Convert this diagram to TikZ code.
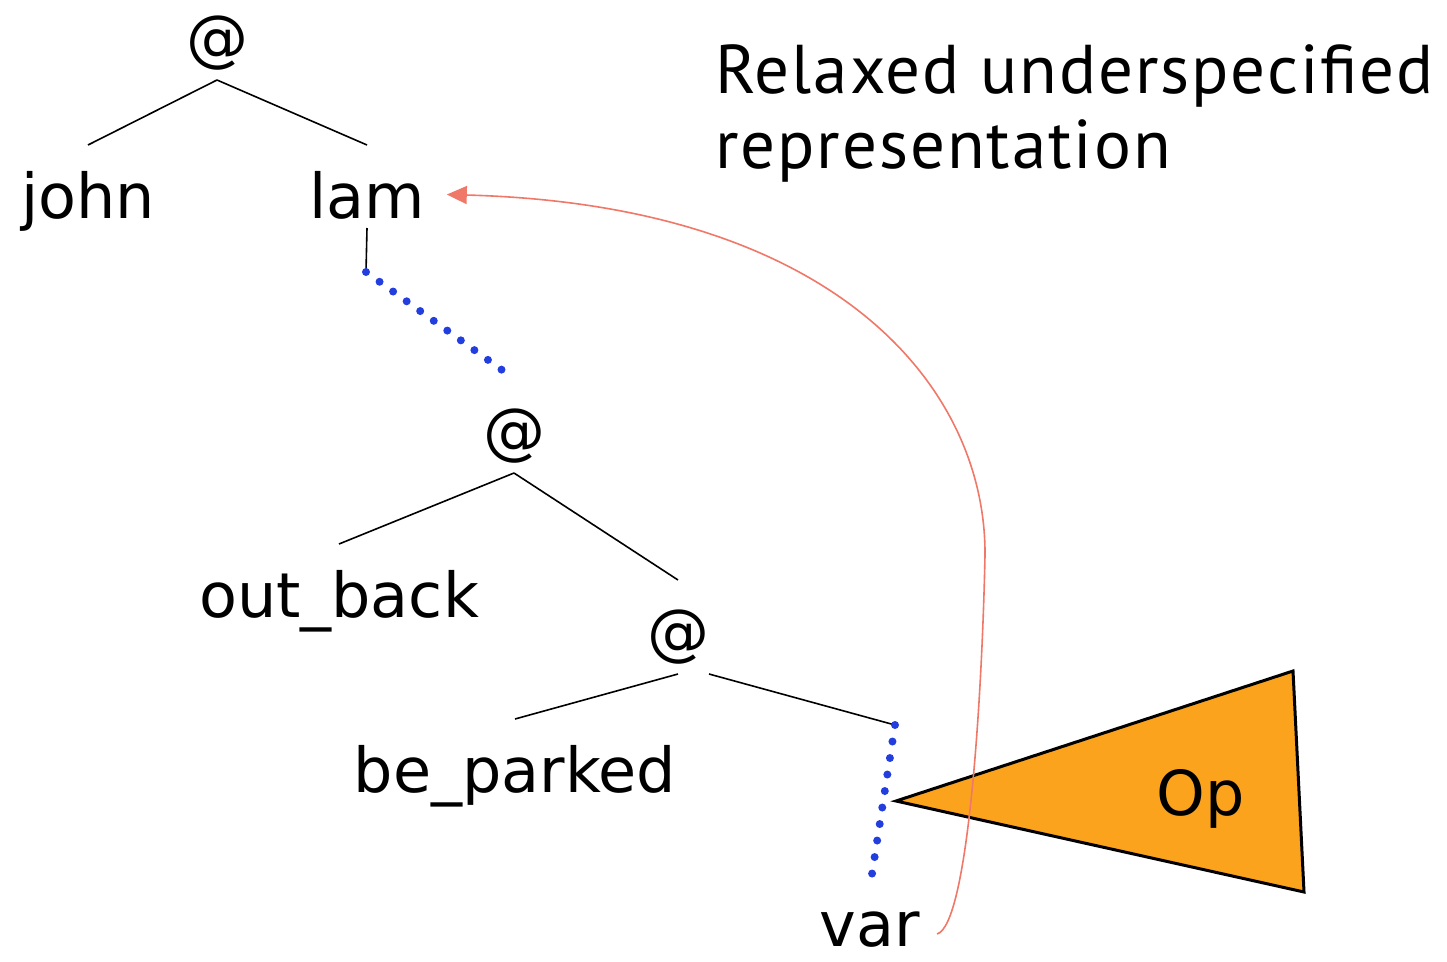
\documentclass[tikz,border=0pt]{standalone}
\usepackage{fontspec}
\setmainfont{DejaVu Sans}
\newfontfamily\titlefont[LetterSpace=2.8]{PT Sans}
\usetikzlibrary{arrows.meta}
\definecolor{opfill}{RGB}{252,163,30}
\definecolor{dotblue}{RGB}{35,62,222}
\definecolor{linkred}{RGB}{240,120,104}
\begin{document}
\begin{tikzpicture}[x=1pt,y=-1pt,
  lbl/.style={font=\fontsize{62}{62}\selectfont, inner sep=0pt, outer xsep=0pt,
    outer ysep=10pt, text height=63pt, text depth=15pt, anchor=base},
  apply/.style={lbl, text depth=11pt},
  edge/.style={draw=black, line width=1.6pt},
  hole/.style={draw=dotblue, line width=8pt, line cap=round, dash pattern=on 0pt off 16.7pt},
  titletext/.style={font=\titlefont\fontsize{69}{69}\selectfont, inner sep=0pt, anchor=base west},
  link/.style={draw=linkred, line width=1.6pt, -{Triangle[length=20pt,width=18pt]}}]
\useasboundingbox (0,0) rectangle (1447,961);

% title
\node[titletext] (t1) at (715,93) {Relaxed underspecified};
\node[titletext] (t2) at (715,168) {representation};

% tree labels
\node[apply] (at1) at (217,59) {@};
\node[lbl] (john) at (88,218) {john};
\node[lbl, text depth=0pt, outer xsep=22pt] (lam) at (367,218) {lam};
\node[apply] (at2) at (514,452) {@};
\node[lbl] (outback) at (339,617) {out\_back};
\node[apply] (at3) at (678,653) {@};
\node[lbl] (beparked) at (515,792) {be\_parked};
\node[lbl, text height=46pt, text depth=0pt, outer ysep=0pt] (var) at (870,946) {var};

% hole endpoints
\coordinate (lamstem) at (366,272);
\coordinate (holeA1) at (502,370);
\coordinate (holeB0) at (895,725);
\coordinate (holeB1) at (872,874);

% tree edges
\draw[edge] (at1.south) -- (john.north);
\draw[edge] (at1.south) -- (lam.north);
\draw[edge] (lam.south) -- (lamstem);
\draw[edge] (at2.south) -- (outback.north);
\draw[edge] (at2.south) -- (at3.north);
\draw[edge] (at3.south) -- (beparked.north);
\draw[edge] (at3.south east) -- (holeB0);

% dominance holes
\draw[hole] (lamstem) -- (holeA1);
\draw[hole] (holeB0) -- (holeB1);

% operator triangle
\coordinate (optip) at (896,801);
\coordinate (optop) at (1293,671);
\coordinate (opbot) at (1304,892);
\draw[fill=opfill, draw=black, line width=3pt, line join=miter] (optip) -- (optop) -- (opbot) -- cycle;
\node[lbl, anchor=base] (op) at (1201,815) {Op};

% binding link from var back to lam
\coordinate (varend) at (937,934);
\draw[link] (varend) .. controls (968,925) and (982,700) .. (985,555)
  .. controls (986,390) and (840,205) .. ([yshift=-8pt]lam.east);
\end{tikzpicture}
\end{document}
